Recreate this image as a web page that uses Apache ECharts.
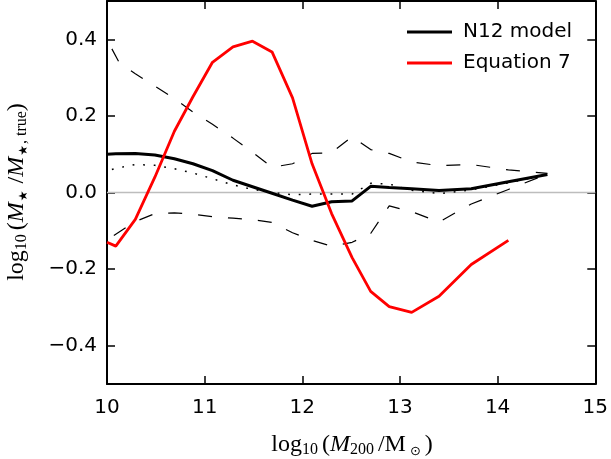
<!DOCTYPE html>
<html>
<head>
<meta charset="utf-8">
<script src="https://cdn.jsdelivr.net/npm/echarts@6/dist/echarts.min.js"></script>
<style>
html,body{margin:0;padding:0;background:#fff;}
#chart{width:611px;height:459px;}
</style>
</head>
<body>
<div id="chart"></div>
<script>
// ---- data ----
var xTickLabels = [10, 11, 12, 13, 14, 15];
var yTickValues = [-0.4, -0.2, 0.0, 0.2, 0.4];

var n12X = [10.0, 10.09, 10.29, 10.49, 10.69, 10.88, 11.08, 11.29, 11.49, 11.69, 11.90, 12.10, 12.30, 12.51, 12.70, 12.89, 13.12, 13.40, 13.73, 14.11, 14.51];
var n12Y = [0.100, 0.101, 0.102, 0.098, 0.088, 0.075, 0.057, 0.032, 0.015, -0.002, -0.020, -0.036, -0.024, -0.022, 0.016, 0.013, 0.010, 0.005, 0.010, 0.028, 0.047];

var dotX = [10.05, 10.09, 10.29, 10.49, 10.69, 10.88, 11.08, 11.29, 11.49, 11.69, 11.90, 12.10, 12.30, 12.51, 12.70, 12.89, 13.12, 13.40, 13.73, 14.11, 14.51];
var dotY = [0.060, 0.063, 0.073, 0.071, 0.062, 0.051, 0.036, 0.020, 0.008, 0.000, -0.006, -0.004, -0.004, -0.004, 0.024, 0.022, 0.006, -0.003, 0.007, 0.025, 0.047];

var upX = [10.05, 10.13, 10.29, 10.49, 10.69, 10.88, 11.08, 11.29, 11.49, 11.69, 11.90, 12.10, 12.30, 12.51, 12.70, 12.89, 13.12, 13.40, 13.73, 14.11, 14.51];
var upY = [0.375, 0.337, 0.310, 0.278, 0.245, 0.210, 0.178, 0.142, 0.105, 0.066, 0.075, 0.102, 0.104, 0.146, 0.112, 0.102, 0.080, 0.070, 0.073, 0.059, 0.050];

var loX = [10.07, 10.29, 10.49, 10.69, 10.88, 11.08, 11.29, 11.49, 11.69, 11.90, 12.10, 12.30, 12.51, 12.70, 12.89, 13.12, 13.40, 13.73, 14.11, 14.51];
var loY = [-0.112, -0.076, -0.055, -0.053, -0.057, -0.063, -0.067, -0.071, -0.078, -0.105, -0.125, -0.140, -0.130, -0.107, -0.035, -0.050, -0.077, -0.030, 0.008, 0.048];

var eq7X = [10.0, 10.09, 10.29, 10.49, 10.69, 10.88, 11.08, 11.29, 11.49, 11.69, 11.90, 12.10, 12.30, 12.51, 12.70, 12.89, 13.12, 13.40, 13.73, 14.11];
var eq7Y = [-0.130, -0.140, -0.070, 0.040, 0.160, 0.250, 0.340, 0.380, 0.395, 0.367, 0.247, 0.075, -0.055, -0.170, -0.258, -0.298, -0.313, -0.271, -0.188, -0.125];

var seriesNames = ['N12 model', 'Equation 7'];

function pairs(xs, ys) { return xs.map(function (x, i) { return [x, ys[i]]; }); }

var chart = echarts.init(document.getElementById('chart'), null, {renderer: 'canvas'});

var axisLineStyle = {color: '#000', width: 2};
var tickStyle = {color: '#000', width: 1.5};
var SANS = 'DejaVu Sans';
var SERIF = 'Liberation Serif';

function fmtY(v) {
  var s = Math.abs(v).toFixed(1);
  return (v < -1e-9 ? '\u2212' : '') + s;
}

var mainFont = {fontFamily: SERIF, fontSize: 24, lineHeight: 26, fill: '#000'};
var itFont = {fontFamily: SERIF, fontSize: 24, lineHeight: 26, fontStyle: 'italic', fill: '#000'};
var subFont = {fontFamily: SERIF, fontSize: 16, lineHeight: 9, verticalAlign: 'bottom', fill: '#000'};
var subPad = {fontFamily: SERIF, fontSize: 16, lineHeight: 9, verticalAlign: 'bottom', fill: '#000', padding: [0, 4, 0, 0]};
var subSym = {fontFamily: SANS, fontSize: 13, lineHeight: 9, verticalAlign: 'bottom', fill: '#000', padding: [0, 4, 0, 4]};
var subStar = {fontFamily: SANS, fontSize: 12, lineHeight: 9, verticalAlign: 'bottom', fill: '#000', padding: [0, 1, 0, 1]};

var labelRich = {n: mainFont, i: itFont, s: subFont, p: subPad, y: subSym, t: subStar};

var option = {
  animation: false,
  backgroundColor: '#fff',
  grid: {left: 107, right: 13, top: 1, bottom: 75, containLabel: false},
  legend: {
    data: seriesNames,
    orient: 'vertical',
    left: 402,
    top: 17,
    icon: 'rect',
    itemWidth: 45,
    itemHeight: 3,
    itemGap: 11,
    textStyle: {fontFamily: SANS, fontSize: 20, color: '#000', padding: [0, 0, 0, 6]}
  },
  xAxis: [
    {
      type: 'value', min: 10, max: 15, interval: 1, position: 'bottom',
      axisLine: {show: true, onZero: false, lineStyle: axisLineStyle},
      axisTick: {show: true, inside: true, length: 8, lineStyle: tickStyle},
      axisLabel: {show: true, fontFamily: SANS, fontSize: 20, color: '#000', margin: 14,
        formatter: function (v) { return xTickLabels.indexOf(v) >= 0 ? String(v) : ''; }},
      splitLine: {show: false}
    },
    {
      type: 'value', min: 10, max: 15, interval: 1, position: 'top',
      axisLine: {show: true, onZero: false, lineStyle: axisLineStyle},
      axisTick: {show: true, inside: true, length: 8, lineStyle: tickStyle},
      axisLabel: {show: false},
      splitLine: {show: false}
    }
  ],
  yAxis: [
    {
      type: 'value', min: -0.5, max: 0.5, position: 'left',
      axisLine: {show: true, onZero: false, lineStyle: axisLineStyle},
      axisTick: {show: true, inside: true, length: 8, lineStyle: tickStyle, customValues: yTickValues},
      axisLabel: {show: true, fontFamily: SANS, fontSize: 20, color: '#000', margin: 10,
        customValues: yTickValues, formatter: fmtY},
      splitLine: {show: false}
    },
    {
      type: 'value', min: -0.5, max: 0.5, position: 'right',
      axisLine: {show: true, onZero: false, lineStyle: axisLineStyle},
      axisTick: {show: true, inside: true, length: 8, lineStyle: tickStyle, customValues: yTickValues},
      axisLabel: {show: false},
      splitLine: {show: false}
    }
  ],
  series: [
    {
      name: 'zero', type: 'line', data: [[10, 0], [15, 0]], symbol: 'none', silent: true, z: 1,
      lineStyle: {color: '#bdbdbd', width: 1.3}
    },
    {
      name: 'upper', type: 'line', data: pairs(upX, upY), symbol: 'none', z: 2,
      lineStyle: {color: '#000', width: 1.2, type: [14, 16]}
    },
    {
      name: 'lower', type: 'line', data: pairs(loX, loY), symbol: 'none', z: 2,
      lineStyle: {color: '#000', width: 1.2, type: [14, 16]}
    },
    {
      name: 'dotted', type: 'line', data: pairs(dotX, dotY), symbol: 'none', z: 2,
      lineStyle: {color: '#000', width: 1.5, type: [1.8, 8.8]}
    },
    {
      name: seriesNames[0], type: 'line', data: pairs(n12X, n12Y), symbol: 'none', z: 3,
      itemStyle: {color: '#000'},
      lineStyle: {color: '#000', width: 3}
    },
    {
      name: seriesNames[1], type: 'line', data: pairs(eq7X, eq7Y), symbol: 'none', z: 4,
      itemStyle: {color: '#ff0000'},
      lineStyle: {color: '#ff0000', width: 2.8}
    }
  ],
  graphic: [
    {
      type: 'text', x: 352, y: 445,
      style: {
        text: '{n|log}{p|10}{n|(}{i|M}{p|200}{n|/M}{y|\u2299}{n|)}',
        rich: labelRich, align: 'center', verticalAlign: 'middle'
      }
    },
    {
      type: 'text', x: 17, y: 192, rotation: Math.PI / 2,
      style: {
        text: '{n|log}{p|10}{n|(}{i|M}{t|\u2605}{n| /}{i|M}{t|\u2605}{s|, true}{n|)}',
        rich: labelRich, align: 'center', verticalAlign: 'middle'
      }
    }
  ]
};

chart.setOption(option);
</script>
</body>
</html>
